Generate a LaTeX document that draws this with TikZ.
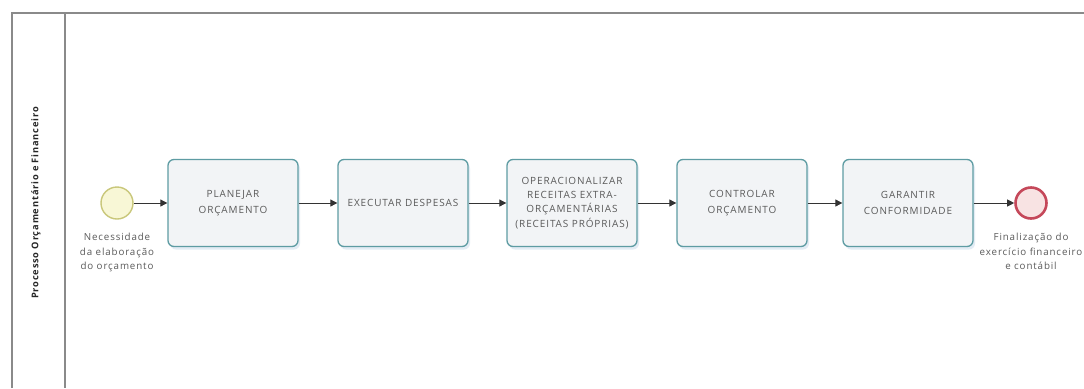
\documentclass[tikz,border=0pt]{standalone}
\usepackage{fontspec}
\setmainfont{Open Sans}
\newfontfamily\taskfont[LetterSpace=9]{Open Sans}
\newfontfamily\labelfont[LetterSpace=9]{Open Sans}
\newfontfamily\lanefont[LetterSpace=9]{Open Sans}
\usetikzlibrary{arrows.meta,shadows}
\definecolor{boxline}{HTML}{5E9CA3}
\definecolor{boxfill}{HTML}{F2F4F6}
\definecolor{txt}{HTML}{5A5A5A}
\definecolor{startline}{HTML}{C9C77A}
\definecolor{startfill}{HTML}{F8F7D6}
\definecolor{endline}{HTML}{C5485A}
\definecolor{endfill}{HTML}{F8E3E3}
\definecolor{pool}{HTML}{8A8A8A}
\definecolor{glow}{HTML}{DCE8F2}
\tikzset{
  task/.style={draw=boxline, line width=1.3bp, fill=boxfill, rounded corners=6bp,
    minimum width=130bp, minimum height=87bp, inner sep=2bp, align=center,
    text=txt, font=\taskfont\fontsize{10}{15.5}\selectfont,
    drop shadow={shadow xshift=2bp, shadow yshift=-3bp, fill=glow, opacity=0.8}},
  startev/.style={circle, draw=startline, line width=1.4bp, fill=startfill, minimum size=32bp, inner sep=0pt},
  endev/.style={circle, draw=endline, line width=2.6bp, fill=endfill, minimum size=31bp, inner sep=0pt},
  evlabel/.style={align=center, text=txt, font=\labelfont\fontsize{9.8}{14.5}\selectfont, inner sep=0pt},
  flow/.style={draw=black!80, line width=0.8bp, -{Triangle[length=7bp,width=7bp]}},
  poolline/.style={draw=pool, line width=1.2bp}
}
\begin{document}
\begin{tikzpicture}[x=1bp,y=-1bp]
\useasboundingbox (0,0) rectangle (1084,388);
\fill[white] (0,0) rectangle (1084,388);
% pool
\draw[poolline] (12,388) -- (12,13) -- (1084,13);
\draw[poolline] (65,13) -- (65,388);
\node[rotate=90, font=\lanefont\fontsize{9.3}{11}\selectfont\bfseries, text=black!85, inner sep=0pt] (lane) at (36,203) {Processo Orçamentário e Financeiro};
% events and tasks
\node[startev] (s) at (117,203) {};
\node[task] (t1) at (233,203) {PLANEJAR\\ORÇAMENTO};
\node[task] (t2) at (403,203) {EXECUTAR DESPESAS};
\node[task, font=\taskfont\fontsize{10}{14.3}\selectfont] (t3) at (572,203) {OPERACIONALIZAR\\RECEITAS EXTRA-\\ORÇAMENTÁRIAS\\(RECEITAS PRÓPRIAS)};
\node[task] (t4) at (742,203) {CONTROLAR\\ORÇAMENTO};
\node[task] (t5) at (908,203) {GARANTIR\\CONFORMIDADE};
\node[endev] (e) at (1031,203) {};
% labels
\node[evlabel, anchor=north] (sl) at (117,233) {Necessidade\\da elaboração\\do orçamento};
\node[evlabel, anchor=north] (el) at (1031,233) {Finalização do\\exercício financeiro\\e contábil};
% flows
\draw[flow] (s) -- (t1);
\draw[flow] (t1) -- (t2);
\draw[flow] (t2) -- (t3);
\draw[flow] (t3) -- (t4);
\draw[flow] (t4) -- (t5);
\draw[flow] (t5) -- (e);
\end{tikzpicture}
\end{document}
